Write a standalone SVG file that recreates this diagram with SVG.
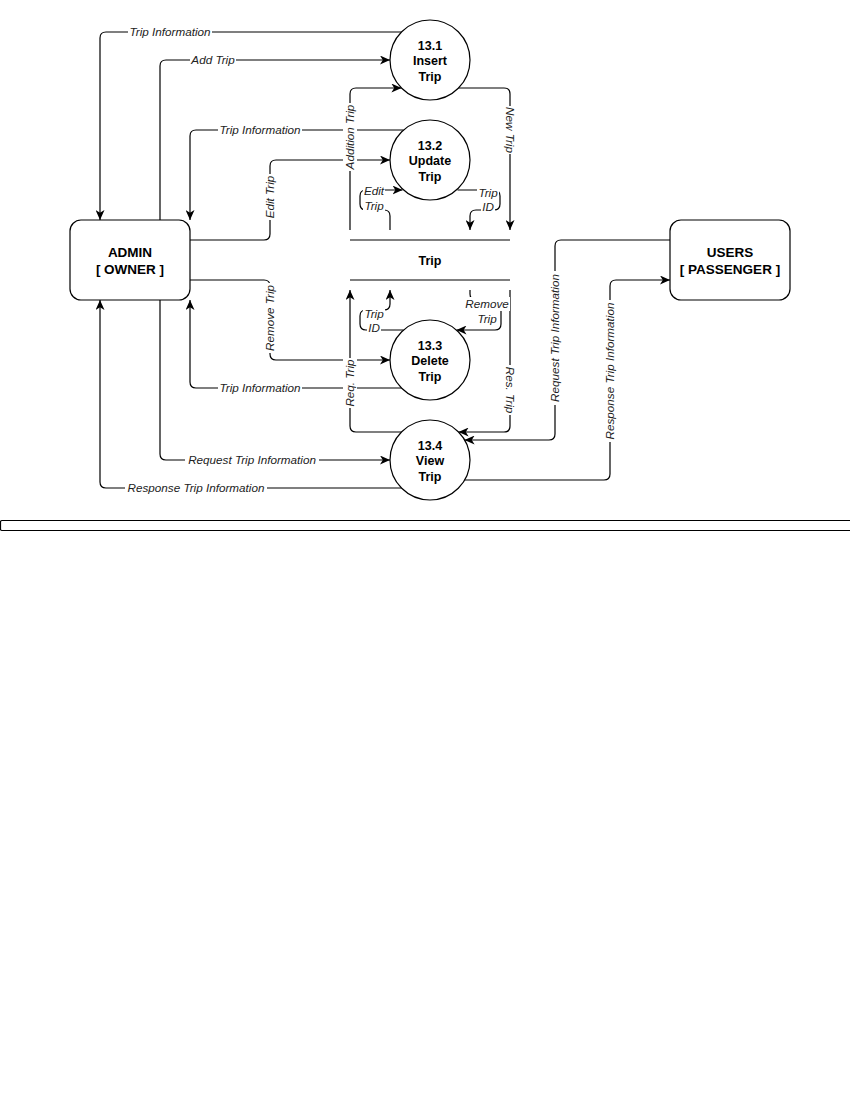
<svg xmlns="http://www.w3.org/2000/svg" width="850" height="1100" viewBox="0 0 850 1100">
<style>
.bg{fill:#fff}
.ln{fill:none;stroke:#000;stroke-width:1.2}
.ar{marker-end:url(#arr)}
.lb{fill:#fff;stroke:none}
.el{font-family:"Liberation Sans",Arial,sans-serif;font-style:italic;font-size:11.7px;fill:#222;text-anchor:middle}
.nd{fill:#fff;stroke:#000;stroke-width:1.2}
.nt{font-family:"Liberation Sans",Arial,sans-serif;font-weight:bold;font-size:13.5px;fill:#000;text-anchor:middle}
.ct{font-family:"Liberation Sans",Arial,sans-serif;font-weight:bold;font-size:12.5px;fill:#000;text-anchor:middle}
</style>
<defs>
<marker id="arr" markerUnits="userSpaceOnUse" markerWidth="10" markerHeight="9" viewBox="0 0 10 9" refX="10" refY="4.5" orient="auto">
<path d="M0,0 L10,4.5 L0,9 L2.8,4.5 Z" fill="#000"/>
</marker>
</defs>
<rect class="bg" x="0" y="0" width="850" height="1100"/>

<g id="connectors">
<path class="ln ar" d="M401.4,32 H106 Q100,32 100,38 V220"/>
<path class="ln ar" d="M160,220 V66 Q160,60 166,60 H390"/>
<path class="ln ar" d="M403.5,130 H196 Q190,130 190,136 V220"/>
<path class="ln ar" d="M190,240 H264 Q270,240 270,234 V166 Q270,160 276,160 H390"/>
<path class="ln ar" d="M350,230 V94 Q350,88 356,88 H401.4"/>
<path class="ln ar" d="M458.6,88 H504 Q510,88 510,94 V230"/>
<path class="ln ar" d="M390,230 V216 Q390,210 384,210 H366 Q360,210 360,204 V196 Q360,190 366,190 H402.5"/>
<path class="ln ar" d="M457.5,190 H494 Q500,190 500,196 V204 Q500,210 494,210 H476 Q470,210 470,216 V230"/>
<path class="ln ar" d="M403.5,330 H366 Q360,330 360,324 V316 Q360,310 366,310 H384 Q390,310 390,304 V290"/>
<path class="ln ar" d="M470,290 V294 Q470,300 476,300 H495 Q501,300 501,306 V324 Q501,330 495,330 H456.5"/>
<path class="ln ar" d="M401.4,432 H356 Q350,432 350,426 V290"/>
<path class="ln ar" d="M510,290 V426 Q510,432 504,432 H458.6"/>
<path class="ln ar" d="M190,280 H264 Q270,280 270,286 V354 Q270,360 276,360 H390"/>
<path class="ln ar" d="M401.4,388 H196 Q190,388 190,382 V300"/>
<path class="ln ar" d="M160,300 V454 Q160,460 166,460 H390"/>
<path class="ln ar" d="M401.4,488 H106 Q100,488 100,482 V300"/>
<path class="ln ar" d="M670,240 H561 Q555,240 555,246 V434 Q555,440 549,440 H464.6"/>
<path class="ln ar" d="M464.6,480 H604 Q610,480 610,474 V286 Q610,280 616,280 H670"/>

<g transform="translate(170,32)"><rect class="lb" x="-42" y="-7" width="84" height="14"/><text class="el" y="4">Trip Information</text></g>
<g transform="translate(213,60)"><rect class="lb" x="-23" y="-7" width="46" height="14"/><text class="el" y="4">Add Trip</text></g>
<g transform="translate(260,130)"><rect class="lb" x="-42" y="-7" width="84" height="14"/><text class="el" y="4">Trip Information</text></g>
<g transform="translate(270,197) rotate(-90)"><rect class="lb" x="-23" y="-7" width="46" height="14"/><text class="el" y="4">Edit Trip</text></g>
<g transform="translate(350,137) rotate(-90)"><rect class="lb" x="-34" y="-7" width="68" height="14"/><text class="el" y="4">Addition Trip</text></g>
<g transform="translate(510,130) rotate(90)"><rect class="lb" x="-24" y="-7" width="48" height="14"/><text class="el" y="4">New Trip</text></g>
<g transform="translate(374,191)"><rect class="lb" x="-11" y="-7" width="22" height="14"/><text class="el" y="4">Edit</text></g>
<g transform="translate(374,206)"><rect class="lb" x="-11" y="-7" width="22" height="14"/><text class="el" y="4">Trip</text></g>
<g transform="translate(488,193)"><rect class="lb" x="-11" y="-7" width="22" height="14"/><text class="el" y="4">Trip</text></g>
<g transform="translate(488,207)"><rect class="lb" x="-7" y="-7" width="14" height="14"/><text class="el" y="4">ID</text></g>
<g transform="translate(374,314)"><rect class="lb" x="-11" y="-7" width="22" height="14"/><text class="el" y="4">Trip</text></g>
<g transform="translate(374,328)"><rect class="lb" x="-7" y="-7" width="14" height="14"/><text class="el" y="4">ID</text></g>
<g transform="translate(487,304)"><rect class="lb" x="-23" y="-7" width="46" height="14"/><text class="el" y="4">Remove</text></g>
<g transform="translate(487,319)"><rect class="lb" x="-11" y="-7" width="22" height="14"/><text class="el" y="4">Trip</text></g>
<g transform="translate(270,318) rotate(-90)"><rect class="lb" x="-35" y="-7" width="70" height="14"/><text class="el" y="4">Remove Trip</text></g>
<g transform="translate(350,383) rotate(-90)"><rect class="lb" x="-25" y="-7" width="50" height="14"/><text class="el" y="4">Req. Trip</text></g>
<g transform="translate(510,390) rotate(90)"><rect class="lb" x="-25" y="-7" width="50" height="14"/><text class="el" y="4">Res. Trip</text></g>
<g transform="translate(260,388)"><rect class="lb" x="-42" y="-7" width="84" height="14"/><text class="el" y="4">Trip Information</text></g>
<g transform="translate(252,460)"><rect class="lb" x="-67" y="-7" width="134" height="14"/><text class="el" y="4">Request Trip Information</text></g>
<g transform="translate(196,488)"><rect class="lb" x="-71" y="-7" width="142" height="14"/><text class="el" y="4">Response Trip Information</text></g>
<g transform="translate(555,338) rotate(-90)"><rect class="lb" x="-67" y="-7" width="134" height="14"/><text class="el" y="4">Request Trip Information</text></g>
<g transform="translate(610,371) rotate(-90)"><rect class="lb" x="-71" y="-7" width="142" height="14"/><text class="el" y="4">Response Trip Information</text></g>
</g>

<g id="admin">
<rect class="nd" x="70" y="220" width="120" height="80" rx="11"/>
<text class="nt" x="130" y="257">ADMIN</text>
<text class="nt" x="130" y="274">[ OWNER ]</text>
</g>
<g id="users">
<rect class="nd" x="670" y="220" width="120" height="80" rx="11"/>
<text class="nt" x="730" y="257">USERS</text>
<text class="nt" x="730" y="274">[ PASSENGER ]</text>
</g>
<g id="p13-1">
<circle class="nd" cx="430" cy="60" r="40"/>
<text class="ct" x="430" y="49.5">13.1</text>
<text class="ct" x="430" y="65">Insert</text>
<text class="ct" x="430" y="80.5">Trip</text>
</g>
<g id="p13-2">
<circle class="nd" cx="430" cy="160" r="40"/>
<text class="ct" x="430" y="149.5">13.2</text>
<text class="ct" x="430" y="165">Update</text>
<text class="ct" x="430" y="180.5">Trip</text>
</g>
<g id="p13-3">
<circle class="nd" cx="430" cy="360" r="40"/>
<text class="ct" x="430" y="349.5">13.3</text>
<text class="ct" x="430" y="365">Delete</text>
<text class="ct" x="430" y="380.5">Trip</text>
</g>
<g id="p13-4">
<circle class="nd" cx="430" cy="460" r="40"/>
<text class="ct" x="430" y="449.5">13.4</text>
<text class="ct" x="430" y="465">View</text>
<text class="ct" x="430" y="480.5">Trip</text>
</g>
<g id="store-trip">
<line class="ln" x1="350" y1="240" x2="510" y2="240"/>
<line class="ln" x1="350" y1="280" x2="510" y2="280"/>
<text class="ct" x="430" y="264.5">Trip</text>
</g>
<g id="frame">
<rect class="nd" x="0.5" y="520.5" width="851" height="10" rx="1.5"/>
</g>
</svg>
